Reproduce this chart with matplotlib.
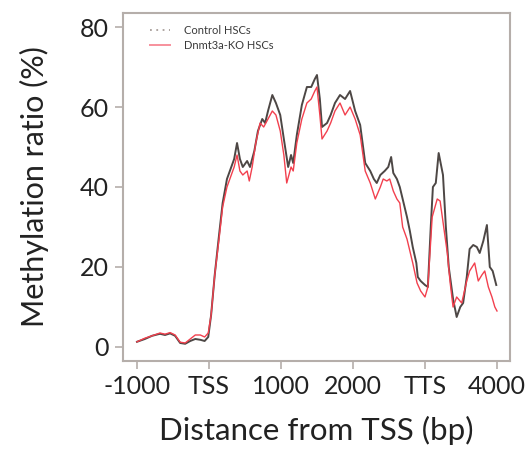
import matplotlib
matplotlib.use("Agg")
import matplotlib.pyplot as plt

# positions relative to TSS (bp); TTS sits at 3000
ctrl_x = [-1000, -890, -790, -680, -610, -540, -470, -400, -330, -260, -190, -120, -60, -10,
          30, 80, 140, 190, 250, 310, 350, 390, 430, 470, 530, 570, 630, 680, 740, 780, 820,
          880, 930, 990, 1040, 1100, 1140, 1170, 1220, 1290, 1360, 1420, 1470, 1500, 1540,
          1570, 1640, 1690, 1750, 1820, 1890, 1960, 2030, 2100, 2170, 2240, 2290, 2330, 2380,
          2440, 2490, 2530, 2560, 2610, 2650, 2690, 2750, 2790, 2830, 2880, 2900, 2940, 3000,
          3040, 3080, 3110, 3150, 3190, 3250, 3290, 3330, 3390, 3440, 3490, 3530, 3580, 3620,
          3670, 3720, 3760, 3810, 3860, 3900, 3940, 3990]
ctrl_y = [1.3, 2.0, 2.8, 3.3, 3.0, 3.4, 2.8, 1.0, 0.8, 1.5, 2.0, 1.8, 1.5, 2.5,
          8, 18, 28, 36, 42, 45, 47, 51, 47, 45, 46.5, 45, 49, 54, 57, 56, 59,
          63, 61, 58, 52, 45, 48, 46, 53, 60.5, 65, 65, 67, 68, 62,
          55, 56, 58, 61, 63, 62, 64, 59, 55.5, 46, 44, 42, 41, 43,
          44, 45, 47.5, 43.5, 42, 40, 37, 32.5, 29, 25, 21, 17.5, 16.5, 15.5,
          15, 30, 40, 41, 48.5, 43, 30, 20, 12, 7.5, 10, 11, 17.5, 24.5,
          25.5, 25, 23.5, 26.5, 30.5, 20, 19, 15.5]

ko_x = [-1000, -890, -790, -680, -610, -540, -470, -400, -330, -260, -190, -120, -60, -10,
        30, 80, 140, 190, 250, 310, 350, 390, 430, 470, 530, 560, 600, 650, 710, 760, 820,
        880, 930, 990, 1040, 1080, 1140, 1170, 1220, 1290, 1360, 1420, 1470, 1500, 1540,
        1570, 1640, 1690, 1750, 1820, 1890, 1960, 2030, 2100, 2170, 2240, 2310, 2380, 2420,
        2470, 2510, 2560, 2610, 2650, 2690, 2750, 2790, 2830, 2890, 2940, 3000, 3040, 3100,
        3170, 3210, 3260, 3310, 3350, 3390, 3440, 3510, 3580, 3620, 3690, 3740, 3790, 3830,
        3880, 3930, 3970, 4000]
ko_y = [1.3, 2.2, 2.8, 3.5, 3.2, 3.6, 3.0, 1.2, 1.0, 2.0, 3.0, 3.0, 2.5, 3.5,
        8, 18, 27, 35, 40, 43, 45, 48, 44, 43, 44, 41.5, 45, 51, 56, 55, 57,
        59, 58, 54, 48, 41, 45, 44, 51, 57, 61, 62, 64, 65, 58,
        52, 54, 56, 59, 61, 58, 60, 57, 53, 44, 41, 37, 40, 42,
        41.5, 42, 39, 37, 36, 30, 27, 24, 21, 16, 14, 12.5, 15, 32.5,
        37, 36.5, 30, 23.5, 16, 10, 12.5, 11, 16.5, 19,
        21, 16.5, 18, 19, 15, 12.5, 10, 9]

tick_pos = [-1000, 0, 1000, 2000, 3000, 4000]
tick_labels = ["-1000", "TSS", "1000", "2000", "TTS", "4000"]
y_ticks = [0, 20, 40, 60, 80]

plt.rcParams["font.family"] = ["Lato", "DejaVu Sans"]

fig = plt.figure(figsize=(5.31, 4.5), dpi=100)
ax = fig.add_axes([0.2316, 0.1978, 0.7289, 0.7733])

ax.plot(ctrl_x, ctrl_y, color="#4d4745", lw=1.4)
ax.plot(ko_x, ko_y, color="#f2404e", lw=1.0)

# legend entries (control shown dotted, as in the original)
h1, = ax.plot([], [], color="#a89e9a", lw=1.3, ls=(0, (1, 2.5)))
h2, = ax.plot([], [], color="#f7909c", lw=1.4)
ax.legend([h1, h2], ["Control HSCs", "Dnmt3a-KO HSCs"], loc="upper left",
          bbox_to_anchor=(0.045, 0.995), frameon=False, fontsize=8,
          handlelength=1.8, handletextpad=1.2, labelspacing=0.4,
          labelcolor="#3a3a3a")

ax.set_xlim(-1194, 4181)
ax.set_ylim(-3.5, 83.5)
ax.set_xticks(tick_pos)
ax.set_xticklabels(tick_labels)
ax.set_yticks(y_ticks)

for s in ax.spines.values():
    s.set_color("#b5aeaa")
    s.set_linewidth(1.5)
ax.tick_params(axis="both", direction="out", length=6, width=1.2, color="#b5aeaa",
               labelsize=18, labelcolor="#222222", pad=4)

ax.set_xlabel("Distance from TSS (bp)", fontsize=22.5, color="#222222", labelpad=13)
ax.set_ylabel("Methylation ratio (%)", fontsize=22, color="#222222", labelpad=22)

fig.savefig("out.png", dpi=100)
